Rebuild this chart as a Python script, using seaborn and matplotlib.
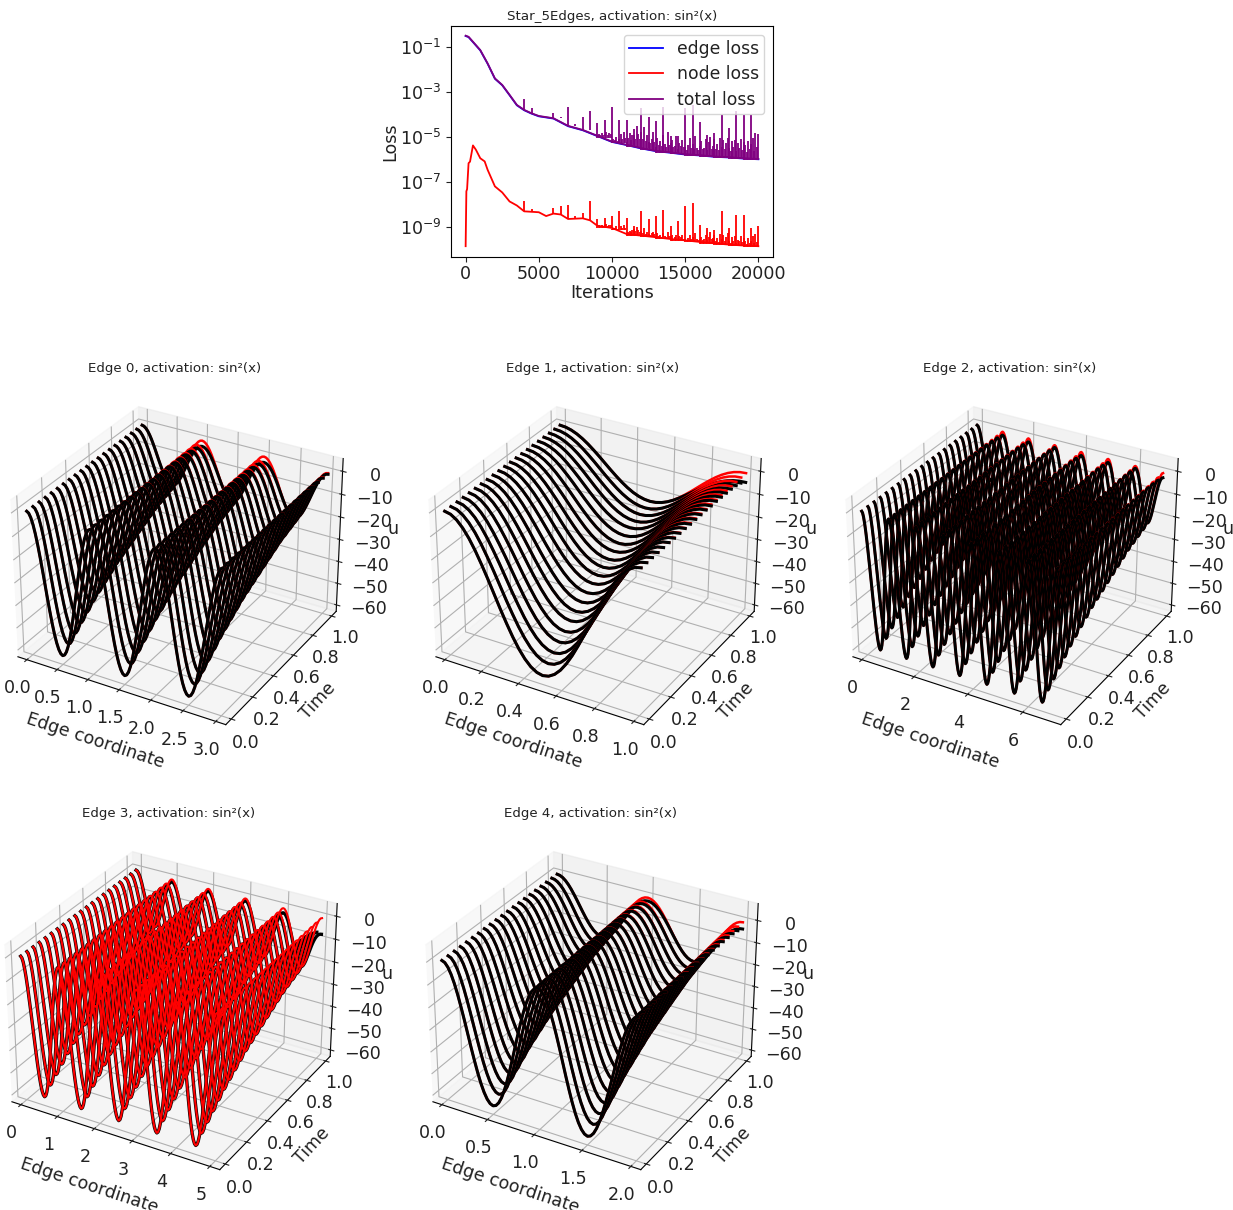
import numpy as np
import matplotlib
matplotlib.use("Agg")
import matplotlib.pyplot as plt
import seaborn as sns

plt.rcParams["font.size"] = 12.6
plt.rcParams["text.color"] = "#222222"
plt.rcParams["axes.labelcolor"] = "#222222"
plt.rcParams["xtick.color"] = "#222222"
plt.rcParams["ytick.color"] = "#222222"

FIG_W, FIG_H = 1233, 1210

# loss curves as log10(loss)
total_iters = [0, 200, 500, 1000, 1500, 2000, 2500, 3000, 3500, 4000, 4500, 5000, 6000, 7000, 8000, 9000,
               10000, 11000, 12000, 13000, 14000, 15000, 16000, 17000, 18000, 19000, 20000]
total_log = [-0.48, -0.53, -0.75, -1.12, -1.71, -2.38, -2.67, -3.11, -3.56, -3.78, -3.93, -4.05, -4.15, -4.49,
             -4.67, -4.93, -5.19, -5.33, -5.48, -5.60, -5.67, -5.75, -5.79, -5.85, -5.88, -5.93, -5.96]
node_iters = [0, 50, 100, 200, 300, 500, 700, 1000, 1300, 1500, 2000, 2500, 3000, 3500, 4000, 5000, 5500, 6000,
              6500, 7000, 8000, 8500, 9000, 10000, 11000, 12000, 13000, 14000, 15000, 16000, 17000, 18000,
              19000, 20000]
node_log = [-9.84, -7.40, -7.30, -6.15, -6.08, -5.36, -5.55, -5.93, -6.07, -6.44, -7.18, -7.45, -7.85, -8.03,
            -8.29, -8.33, -8.50, -8.39, -8.43, -8.63, -8.60, -8.69, -8.93, -9.03, -9.30, -9.37, -9.44, -9.52,
            -9.58, -9.65, -9.71, -9.77, -9.81, -9.84]

spike_iters = [4000, 4500, 6000, 6500, 7000, 7500, 8000, 8500, 9000, 9500, 10000, 10500, 11000, 11500, 12000,
               12500, 13000, 13500, 14000, 14500, 15000, 15500, 16000, 16500, 17000, 17500, 18000, 18500, 19000,
               19500, 20000]
total_spikes = [-3.31, -3.71, -3.93, -4.10, -3.63, -4.40, -4.08, -3.81, -4.38, -4.22, -3.66, -4.22, -4.25, -4.89,
                -3.71, -4.08, -4.27, -3.63, -4.93, -4.93, -3.71, -3.56, -4.34, -4.89, -4.81, -4.00, -4.57,
                -3.83, -4.00, -4.00, -4.85]
node_spikes = [-7.85, -8.18, -8.14, -8.06, -7.99, -8.50, -8.38, -7.83, -8.63, -8.58, -8.50, -8.29, -8.58, -8.95,
               -8.29, -8.65, -8.50, -8.25, -8.95, -8.73, -8.06, -7.91, -8.88, -9.03, -9.10, -8.29, -9.03, -8.44,
               -8.44, -9.03, -8.95]

band_iters = list(range(9000, 20000, 100))
total_band = [0.1, 0.15, 0.1, 0.2, 0.1, 0.15, 0.25, 0.1, 0.2, 0.15, 0.1, 0.2, 0.15, 0.3, 0.1, 0.2,
              0.4, 0.2, 0.5, 0.25, 0.2, 0.4, 0.6, 0.3, 0.5, 0.8, 0.35, 0.9, 0.55, 0.35, 0.8, 0.5, 1.0, 0.4, 0.65,
              0.35, 0.3, 0.5, 0.8, 0.35, 0.25, 0.65, 0.35, 0.5, 0.3, 0.8, 0.4, 0.25, 0.9, 0.35, 0.5, 0.65, 0.3, 0.35,
              0.8, 0.25, 0.5, 0.35, 0.65, 0.3, 0.4, 0.25, 0.5, 0.8, 0.35, 0.55, 0.3, 0.9, 0.35, 0.25, 0.5, 0.7, 0.35,
              0.4, 0.8, 0.3, 0.65, 0.9, 0.35, 0.5, 0.85, 0.4, 0.65, 0.35, 0.9, 0.5, 0.8, 0.4, 0.7, 0.9, 0.5, 0.35,
              0.8, 0.55, 0.85, 0.35, 0.7, 0.5, 0.9, 0.4, 0.8, 0.65, 0.35, 0.85, 0.5, 0.7, 1.0, 0.4, 1.2, 0.6]
node_band = [0.05, 0.1, 0.05, 0.1, 0.05, 0.1, 0.15, 0.05, 0.1, 0.1, 0.05, 0.1, 0.1, 0.15, 0.05, 0.1,
             0.15, 0.1, 0.2, 0.1, 0.1, 0.15, 0.2, 0.15, 0.25, 0.3, 0.2, 0.4, 0.25, 0.15, 0.3, 0.2, 0.4, 0.15,
             0.25, 0.15, 0.1, 0.2, 0.25, 0.15, 0.1, 0.25, 0.15, 0.2, 0.1, 0.25, 0.15, 0.1, 0.3, 0.15, 0.2, 0.25, 0.1,
             0.15, 0.25, 0.1, 0.2, 0.15, 0.25, 0.1, 0.15, 0.1, 0.2, 0.3, 0.15, 0.25, 0.1, 0.4, 0.15, 0.1, 0.2, 0.3,
             0.15, 0.2, 0.4, 0.15, 0.3, 0.5, 0.2, 0.25, 0.45, 0.2, 0.3, 0.15, 0.5, 0.25, 0.45, 0.2, 0.35, 0.55, 0.25,
             0.15, 0.4, 0.25, 0.45, 0.15, 0.3, 0.25, 0.45, 0.2, 0.4, 0.3, 0.15, 0.4, 0.2, 0.3, 0.5, 0.2, 0.6, 0.25]

# surfaces: trough depth per time slice and one hump of the profile
time_slices = [0.0, 0.05, 0.1, 0.15, 0.2, 0.25, 0.3, 0.35, 0.4, 0.45, 0.5, 0.55, 0.6, 0.65, 0.7, 0.75, 0.8, 0.85,
               0.9, 0.95, 1.0]
trough_depth = [59, 56, 53.5, 51, 48.5, 46, 44, 42, 40, 38, 36.5, 35, 33.5, 32, 30.5, 29, 27.5, 26.5,
                25.5, 24.5, 23.5]
hump_shape = [0, .0096, .038, .084, .146, .222, .309, .402, .5, .598, .691, .778, .854, .916, .962, .990, 1,
              .990, .962, .916, .854, .778, .691, .598, .5, .402, .309, .222, .146, .084, .038, .0096, 0]
# how far the red curves sit above the black ones towards the back
gap_by_time = [0, 0, 0, 0, 0, 0, 0.05, 0.05, 0.05, 0.1, 0.1, 0.1, 0.1, 0.15, 0.15, 0.2, 0.25, 0.3, 0.4, 0.6, 1]

edge_lengths = [3, 1, 7, 5, 2]
edge_peak_gaps = [[0, 2.5, 2.5, 0.5], [0, 4], [0, 1.5, 1.5, 1, 1.5, 1.5, 1, 2], [0, 1, 1, 1, 2, 7], [0, 1.5, 3]]
edge_xticks = [[0.0, 0.5, 1.0, 1.5, 2.0, 2.5, 3.0], [0.0, 0.2, 0.4, 0.6, 0.8, 1.0], [0, 2, 4, 6],
               [0, 1, 2, 3, 4, 5], [0.0, 0.5, 1.0, 1.5, 2.0]]
edge_centers = [175, 593, 1010, 169, 590]
edge_tops = [378, 378, 378, 823, 823]
edge_zmax = [5.5, 5.5, 5.5, 5.5, 7.5]
u_ticks = [0, -10, -20, -30, -40, -50, -60]
time_ticks = [0.0, 0.2, 0.4, 0.6, 0.8, 1.0]


def px_axes(fig, left, top, w, h, **kw):
    return fig.add_axes([left / FIG_W, 1 - (top + h) / FIG_H, w / FIG_W, h / FIG_H], **kw)


def plot_loss(fig):
    ax = px_axes(fig, 451, 26, 322, 231)
    total = np.array(total_log)
    sns.lineplot(x=total_iters, y=10 ** (total - 0.015), ax=ax, color="blue", lw=1.3, label="edge loss",
                 estimator=None)
    sns.lineplot(x=node_iters, y=10 ** np.array(node_log), ax=ax, color="red", lw=1.3, label="node loss",
                 estimator=None)
    sns.lineplot(x=total_iters, y=10 ** total, ax=ax, color="purple", lw=1.3, label="total loss", estimator=None)

    for iters, base_x, base_y, peaks, color in [
        (spike_iters, node_iters, node_log, node_spikes, "red"),
        (spike_iters, total_iters, total_log, total_spikes, "purple"),
    ]:
        idx = np.searchsorted(base_x, iters, side="right") - 1
        foot = np.array(base_y)[idx]
        ax.vlines(iters, 10 ** foot, 10 ** np.array(peaks), color=color, lw=1.3)
    for base_x, base_y, band, color in [
        (node_iters, node_log, node_band, "red"),
        (total_iters, total_log, total_band, "purple"),
    ]:
        idx = np.searchsorted(base_x, band_iters, side="right") - 1
        foot = np.array(base_y)[idx]
        ax.vlines(band_iters, 10 ** (foot - 0.08), 10 ** (foot - 0.08 + np.array(band)), color=color, lw=1.3)

    ax.set_yscale("log")
    ax.set_xlim(-1000, 21000)
    ax.set_ylim(10 ** -10.32, 10 ** -0.05)
    ax.set_xticks([0, 5000, 10000, 15000, 20000])
    ax.set_yticks([1e-1, 1e-3, 1e-5, 1e-7, 1e-9])
    ax.yaxis.set_minor_locator(matplotlib.ticker.NullLocator())
    ax.tick_params(axis="x", pad=2)
    ax.set_xlabel("Iterations", labelpad=1)
    ax.set_ylabel("Loss", labelpad=0)
    ax.set_title("Star_5Edges, activation: sin²(x)", fontsize=9.6, pad=4)
    ax.legend(loc="upper right", fontsize=12.4, framealpha=0.8, borderpad=0.3, labelspacing=0.44)


def plot_edge(fig, i, size=370):
    length = edge_lengths[i]
    ax = px_axes(fig, edge_centers[i] - size / 2, edge_tops[i], size, size, projection="3d")
    ax.patch.set_visible(False)
    ax.computed_zorder = False
    ax.view_init(elev=30, azim=-60)

    shape = np.concatenate([hump_shape[:-1]] * length + [[0]])
    x = np.linspace(0, length, len(shape))
    nearest_peak = np.round(x).astype(int)
    peak_gap = np.array(edge_peak_gaps[i])[nearest_peak]

    curves = []
    for j in range(len(time_slices) - 1, -1, -1):
        t = np.full_like(x, time_slices[j])
        red = -trough_depth[j] * shape
        black = red - peak_gap * gap_by_time[j] * (1 - shape) ** 2
        curves.append((t, red, black))

    if i == 3:
        for t, red, black in curves:
            ax.plot(x, t, black, color="black", lw=2.4)
        for t, red, black in curves:
            ax.plot(x, t, red, color="red", lw=1.5)
    else:
        for t, red, black in curves:
            ax.plot(x, t, red, color="red", lw=1.8)
            ax.plot(x, t, black, color="black", lw=2.2)

    ax.set_xlim(-0.05 * length, 1.05 * length)
    ax.set_ylim(-0.05, 1.05)
    ax.set_zlim(-63, edge_zmax[i])
    ax.set_xticks(edge_xticks[i])
    ax.set_yticks(time_ticks)
    ax.set_zticks(u_ticks)
    ax.tick_params(axis="x", pad=2)
    ax.tick_params(axis="y", pad=1)
    ax.tick_params(axis="z", pad=6.5)
    ax.set_xlabel("Edge coordinate", labelpad=5)
    ax.yaxis.set_rotate_label(False)
    ax.set_ylabel("Time", labelpad=2, rotation=47)
    ax.zaxis.set_rotate_label(False)
    ax.set_zlabel("u", labelpad=3, rotation=0)
    ax.set_title(f"Edge {i}, activation: sin²(x)", fontsize=9.6, pad=4)


fig = plt.figure(figsize=(FIG_W / 100, FIG_H / 100), dpi=100)
plot_loss(fig)
for i in range(len(edge_lengths)):
    plot_edge(fig, i)
fig.savefig("out.png", dpi=100)
